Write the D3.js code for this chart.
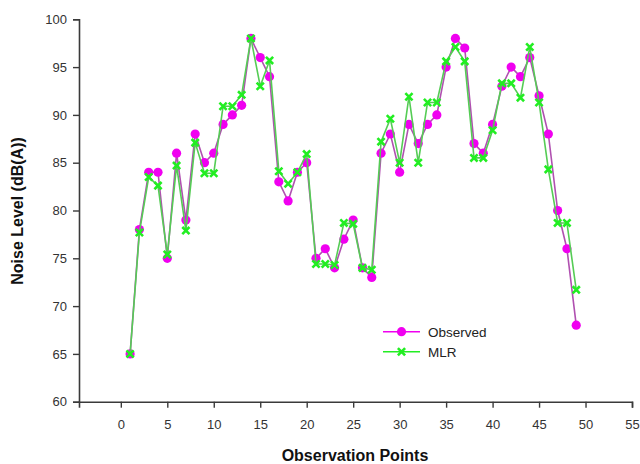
<!DOCTYPE html>
<html>
<head>
<meta charset="utf-8">
<script src="https://cdn.jsdelivr.net/npm/d3@7"></script>
<style>
  body { margin: 0; background: #fff; }
  svg { font-family: "Liberation Sans", Arial, sans-serif; }
</style>
</head>
<body>
<svg id="chart" width="640" height="464"></svg>
<script>
// observation points and the two series
var points = d3.range(1, 50);
var observed = [65, 78, 84, 84, 75, 86, 79, 88, 85, 86,
                89, 90, 91, 98, 96, 94, 83, 81, 84, 85,
                75, 76, 74, 77, 79, 74, 73, 86, 88, 84,
                89, 87, 89, 90, 95, 98, 97, 87, 86, 89,
                93, 95, 94, 96, 92, 88, 80, 76, 68];
var mlr = [65, 77.7, 83.5, 82.6, 75.4, 84.7, 77.9, 87.1, 83.9, 83.9,
           90.9, 90.9, 92.1, 98, 93, 95.7, 84.1, 82.8, 84, 85.9,
           74.4, 74.4, 74.3, 78.7, 78.6, 74, 73.8, 87.2, 89.6, 85,
           91.9, 85, 91.3, 91.3, 95.6, 97.1, 95.6, 85.5, 85.5, 88.4,
           93.3, 93.3, 91.8, 97.1, 91.3, 84.3, 78.7, 78.7, 71.7];
var xTicks = d3.range(0, 56, 5);
var yTicks = d3.range(60, 101, 5);

var svg = d3.select("#chart");

// scales, axes go from the left corner at x=79 to 632
var x = d3.scaleLinear().domain([-4.5, 55]).range([79, 632]);
var y = d3.scaleLinear().domain([60, 100]).range([401.7, 19.3]);

var axisColor = "#3a3a3a";

var xAxis = svg.append("g")
  .attr("transform", "translate(0,401.7)")
  .call(d3.axisBottom(x).tickValues(xTicks).tickSizeOuter(0).tickSize(6).tickPadding(12));
var yAxis = svg.append("g")
  .attr("transform", "translate(79,0)")
  .call(d3.axisLeft(y).tickValues(yTicks).tickSizeOuter(0).tickSize(6).tickPadding(6));

[xAxis, yAxis].forEach(function(ax) {
  ax.select(".domain").attr("stroke", axisColor).attr("stroke-width", 1.6);
  ax.selectAll(".tick line").attr("stroke", axisColor).attr("stroke-width", 1.4);
  ax.selectAll(".tick text").attr("fill", "#333").style("font-size", "13px")
    .style("font-family", "'Liberation Sans', Arial, sans-serif");
});

// axis titles
svg.append("text")
  .attr("x", 355).attr("y", 461)
  .attr("text-anchor", "middle")
  .style("font-size", "16px").style("font-weight", "bold").attr("fill", "#111")
  .text("Observation Points");

svg.append("text")
  .attr("transform", "translate(23,211) rotate(-90)")
  .attr("text-anchor", "middle")
  .style("font-size", "16px").style("font-weight", "bold").attr("fill", "#111")
  .text("Noise Level (dB(A))");

var magenta = "#f000f0";
var green = "#22ee22";

var line = d3.line().x(function(d) { return x(d[0]); }).y(function(d) { return y(d[1]); });
var obsData = points.map(function(p, i) { return [p, observed[i]]; });
var mlrData = points.map(function(p, i) { return [p, mlr[i]]; });

// Observed series
svg.append("path").datum(obsData)
  .attr("d", line).attr("fill", "none")
  .attr("stroke", "#b050b0").attr("stroke-width", 1.6);
svg.selectAll(".obs").data(obsData).enter().append("circle")
  .attr("class", "obs")
  .attr("cx", function(d) { return x(d[0]); })
  .attr("cy", function(d) { return y(d[1]); })
  .attr("r", 4.6).attr("fill", magenta);

// MLR series
svg.append("path").datum(mlrData)
  .attr("d", line).attr("fill", "none")
  .attr("stroke", "#55cc55").attr("stroke-width", 1.6);

function drawX(g, cx, cy) {
  var s = 3.6;
  g.append("path")
    .attr("d", "M" + (cx - s) + "," + (cy - s) + "L" + (cx + s) + "," + (cy + s) +
               "M" + (cx - s) + "," + (cy + s) + "L" + (cx + s) + "," + (cy - s))
    .attr("stroke", green).attr("stroke-width", 2.6).attr("fill", "none");
}
var mlrMarks = svg.append("g");
mlrData.forEach(function(d) { drawX(mlrMarks, x(d[0]), y(d[1])); });

// legend
var legend = svg.append("g");
legend.append("line").attr("x1", 383).attr("x2", 420).attr("y1", 331.7).attr("y2", 331.7)
  .attr("stroke", magenta).attr("stroke-width", 1.6);
legend.append("circle").attr("cx", 401.5).attr("cy", 331.7).attr("r", 4.6).attr("fill", magenta);
legend.append("text").attr("x", 428).attr("y", 336.5).style("font-size", "13.5px").attr("fill", "#222").text("Observed");
legend.append("line").attr("x1", 383).attr("x2", 420).attr("y1", 351.7).attr("y2", 351.7)
  .attr("stroke", green).attr("stroke-width", 1.6);
drawX(legend, 401.5, 351.7);
legend.append("text").attr("x", 428).attr("y", 356.5).style("font-size", "13.5px").attr("fill", "#222").text("MLR");
</script>
</body>
</html>
